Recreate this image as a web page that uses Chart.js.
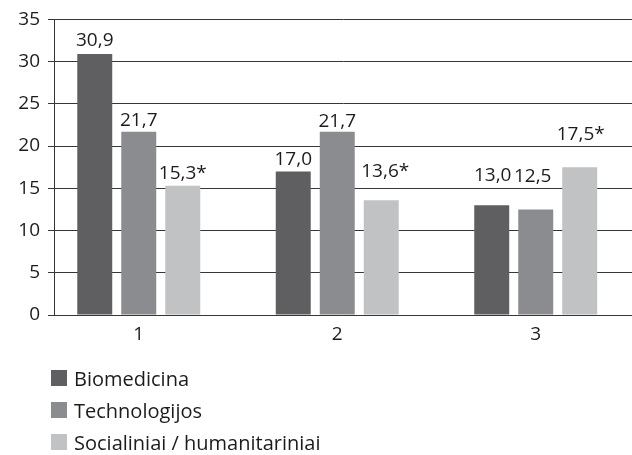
<!DOCTYPE html>
<html>
<head>
<meta charset="utf-8">
<script src="https://cdn.jsdelivr.net/npm/chart.js@4/dist/chart.umd.min.js"></script>
<style>
  html, body { margin: 0; padding: 0; background: #ffffff; }
  #wrap { position: relative; width: 632px; height: 455px; }
</style>
</head>
<body>
<div id="wrap"><canvas id="chart"></canvas></div>
<script>
// Category labels along the x axis
const categories = ['1', '2', '3'];

// Series names and values
const seriesNames = ['Biomedicina', 'Technologijos', 'Socialiniai / humanitariniai'];
const biomedicina = [30.9, 17.0, 13.0];
const technologijos = [21.7, 21.7, 12.5];
const socialiniai = [15.3, 13.6, 17.5];

// Marker appended to the value labels of each series
const labelSuffix = ['', '', '*'];

// Y axis ticks
const yTicks = [0, 5, 10, 15, 20, 25, 30, 35];

const seriesValues = [biomedicina, technologijos, socialiniai];
const seriesColors = ['#5f5f61', '#8b8c90', '#c1c2c4'];

// Value label placement: baseline lift above the bar top and sideways nudge (px)
const labelLift = [[8, 6, 24], [6, 5, 27], [7, 23, 27]];
const labelShift = [[0, 0, 1], [0, 0, -3], [0, 4, 1]];

const FONT = '"Open Sans", "Noto Sans", sans-serif';
const TEXT = '#1e1b1c';
const LINE = '#363636';

const datasets = seriesNames.map((name, s) => ({
  label: name,
  data: seriesValues[s].map((v, i) => ({ x: i + 1, y: v })),
  backgroundColor: seriesColors[s],
  borderWidth: 0,
  categoryPercentage: 0.665,
  barPercentage: 0.795
}));

const fmt = v => v.toFixed(1).replace('.', ',');

// Value printed above each bar
const valueLabels = {
  id: 'valueLabels',
  afterDatasetsDraw(chart) {
    const ctx = chart.ctx;
    ctx.save();
    ctx.font = '19px ' + FONT;
    ctx.fillStyle = TEXT;
    ctx.textAlign = 'center';
    ctx.textBaseline = 'alphabetic';
    chart.data.datasets.forEach((ds, s) => {
      chart.getDatasetMeta(s).data.forEach((bar, i) => {
        const text = fmt(seriesValues[s][i]) + labelSuffix[s];
        ctx.fillText(text, bar.x + labelShift[s][i], bar.y - labelLift[s][i]);
      });
    });
    ctx.restore();
  }
};

// Legend stacked one entry per row under the plot
const stackedLegend = {
  id: 'stackedLegend',
  afterDraw(chart) {
    const ctx = chart.ctx;
    ctx.save();
    ctx.font = '20px ' + FONT;
    ctx.textAlign = 'left';
    ctx.textBaseline = 'alphabetic';
    chart.data.datasets.forEach((ds, s) => {
      const top = 370 + s * 32;
      ctx.fillStyle = ds.backgroundColor;
      ctx.fillRect(51, top, 16, 16);
      ctx.fillStyle = TEXT;
      ctx.fillText(ds.label, 74, top + 16);
    });
    ctx.restore();
  }
};

new Chart(document.getElementById('chart'), {
  type: 'bar',
  data: { datasets },
  plugins: [valueLabels, stackedLegend],
  options: {
    responsive: true,
    maintainAspectRatio: false,
    animation: false,
    layout: { padding: { top: 19, right: 0, bottom: 110, left: 0 } },
    plugins: { legend: { display: false }, tooltip: { enabled: false } },
    scales: {
      x: {
        type: 'linear',
        offset: false,
        min: 0.573,
        max: 3.485,
        afterBuildTicks: axis => { axis.ticks = categories.map((c, i) => ({ value: i + 1 })); },
        afterFit: axis => { axis.height = 30; },
        ticks: {
          color: TEXT,
          font: { family: FONT, size: 19 },
          padding: 0,
          callback: v => categories[v - 1]
        },
        grid: { display: false, offset: false },
        border: { display: true, color: LINE, width: 1 }
      },
      y: {
        min: 0,
        max: 35,
        afterBuildTicks: axis => { axis.ticks = yTicks.map(v => ({ value: v })); },
        afterFit: axis => { axis.width = 54; },
        ticks: {
          color: TEXT,
          font: { family: FONT, size: 19 },
          padding: 8
        },
        grid: { color: LINE, lineWidth: 1, tickLength: 6 },
        border: { display: true, color: LINE, width: 1 }
      }
    }
  }
});
</script>
</body>
</html>
